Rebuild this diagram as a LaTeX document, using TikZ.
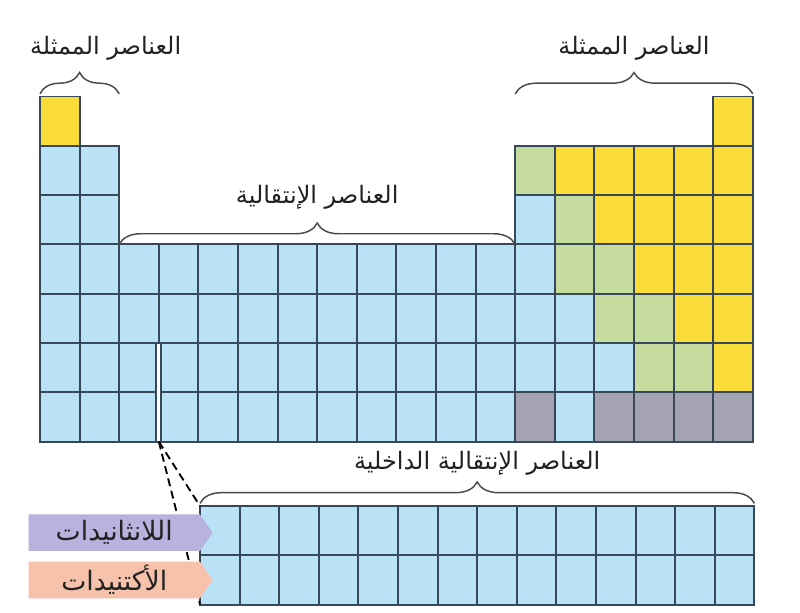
\documentclass[tikz,border=0pt]{standalone}
\usepackage{fontspec}
\usepackage{tikz}
\usetikzlibrary{calc,decorations.pathreplacing,shapes.symbols}

\TeXXeTstate=1
\newfontfamily\arabicfont[Script=Arabic]{DejaVu Sans}

\definecolor{gridline}{HTML}{374859}
\definecolor{metal}{HTML}{BAE2F6}
\definecolor{nonmetal}{HTML}{FADD3A}
\definecolor{metalloid}{HTML}{C6DC9E}
\definecolor{unknown}{HTML}{A4A3B3}
\definecolor{lanth}{HTML}{B8B2DE}
\definecolor{actin}{HTML}{F6C2AC}
\definecolor{bracegray}{HTML}{4A4A4A}
\definecolor{ink}{HTML}{222222}

% one cell of the main table: row, column, colour
\newcommand{\pcell}[3]{\node[cell, fill=#3] (m-#1-#2) at ({40+(#2-0.5)*39.6},{96.5+(#1-0.5)*49.3}) {};}

\begin{document}
\begin{tikzpicture}[x=0.75pt,y=-0.75pt]
   \tikzstyle{every node}=[font=\arabicfont\fontsize{18}{20}\selectfont, text=ink]
   \tikzstyle{cell}=[draw=gridline, line width=1.4pt, minimum width=29.7pt, minimum height=36.98pt, inner sep=0pt, outer sep=0pt]
   \tikzstyle{curly}=[draw=bracegray, line width=1.1pt, decorate, decoration={brace, amplitude=16pt}]
   \tikzstyle{heading}=[midway, anchor=center]
   \tikzstyle{tag}=[shape=signal, signal to=east, signal pointer angle=110, minimum width=138pt, minimum height=27.5pt, inner sep=0pt, anchor=east, font=\arabicfont\fontsize{20}{22}\selectfont]

   \useasboundingbox[fill=white] (0,0) rectangle (800,612);

   % period 1
   \pcell{1}{1}{nonmetal}
   \pcell{1}{18}{nonmetal}

   % s block
   \foreach \r in {2,...,7}
      \foreach \c in {1,2}
         {\pcell{\r}{\c}{metal}}

   % d block
   \foreach \r in {4,...,7}
      \foreach \c in {3,...,12}
         {\pcell{\r}{\c}{metal}}

   % p block
   \foreach \r/\cols in {2/{metalloid,nonmetal,nonmetal,nonmetal,nonmetal,nonmetal},
                         3/{metal,metalloid,nonmetal,nonmetal,nonmetal,nonmetal},
                         4/{metal,metalloid,metalloid,nonmetal,nonmetal,nonmetal},
                         5/{metal,metal,metalloid,metalloid,nonmetal,nonmetal},
                         6/{metal,metal,metal,metalloid,metalloid,nonmetal},
                         7/{unknown,metal,unknown,unknown,unknown,unknown}}
      \foreach \k [count=\c from 13] in \cols
         {\pcell{\r}{\c}{\k}}

   % break where the f block goes in
   \draw[draw=gridline, line width=1.4pt, fill=white] ($(m-6-3.north east)+(-2.5,0)$) rectangle ($(m-7-4.south west)+(2.5,0)$);
   \coordinate (gap) at (m-7-3.south east);

   % f block
   \foreach \r in {1,2}
      \foreach \c in {1,...,14}
         \node[cell, fill=metal] (f-\r-\c) at ({200+(\c-0.5)*39.6},{506+(\r-0.5)*49.3}) {};

   \draw[dashed, line width=1.4pt, dash pattern=on 6pt off 3.5pt] (gap) -- (f-1-1.north west);
   \draw[dashed, line width=1.4pt, dash pattern=on 6pt off 3.5pt] (gap) -- (f-2-1.south west);

   \node[tag, fill=lanth] (lan) at ($(f-1-1.west)+(13,2)$) {\beginR اللانثانيدات\endR};
   \node[tag, fill=actin] (act) at ($(f-2-1.west)+(13,0)$) {\beginR الأكتنيدات\endR};

   % braces and headings
   \coordinate (sR) at (m-1-1.north -| m-2-2.east);
   \coordinate (pL) at (m-1-18.north -| m-2-13.west);
   \draw[curly] ([yshift=2pt]m-1-1.north west) -- ([yshift=2pt]sR)
      node[heading, yshift=34pt, xshift=19.5pt] (sname) {\beginR العناصر الممثلة\endR};
   \draw[curly] ([yshift=2pt]pL) -- ([yshift=2pt]m-1-18.north east)
      node[heading, yshift=34pt] (pname) {\beginR العناصر الممثلة\endR};
   \draw[curly] (m-4-3.north west) -- (m-4-12.north east)
      node[heading, yshift=35pt] (dname) {\beginR العناصر الإنتقالية\endR};
   \draw[curly] ([yshift=2pt]f-1-1.north west) -- ([yshift=2pt]f-1-14.north east)
      node[heading, yshift=30pt] (fname) {\beginR العناصر الإنتقالية الداخلية\endR};
\end{tikzpicture}
\end{document}
